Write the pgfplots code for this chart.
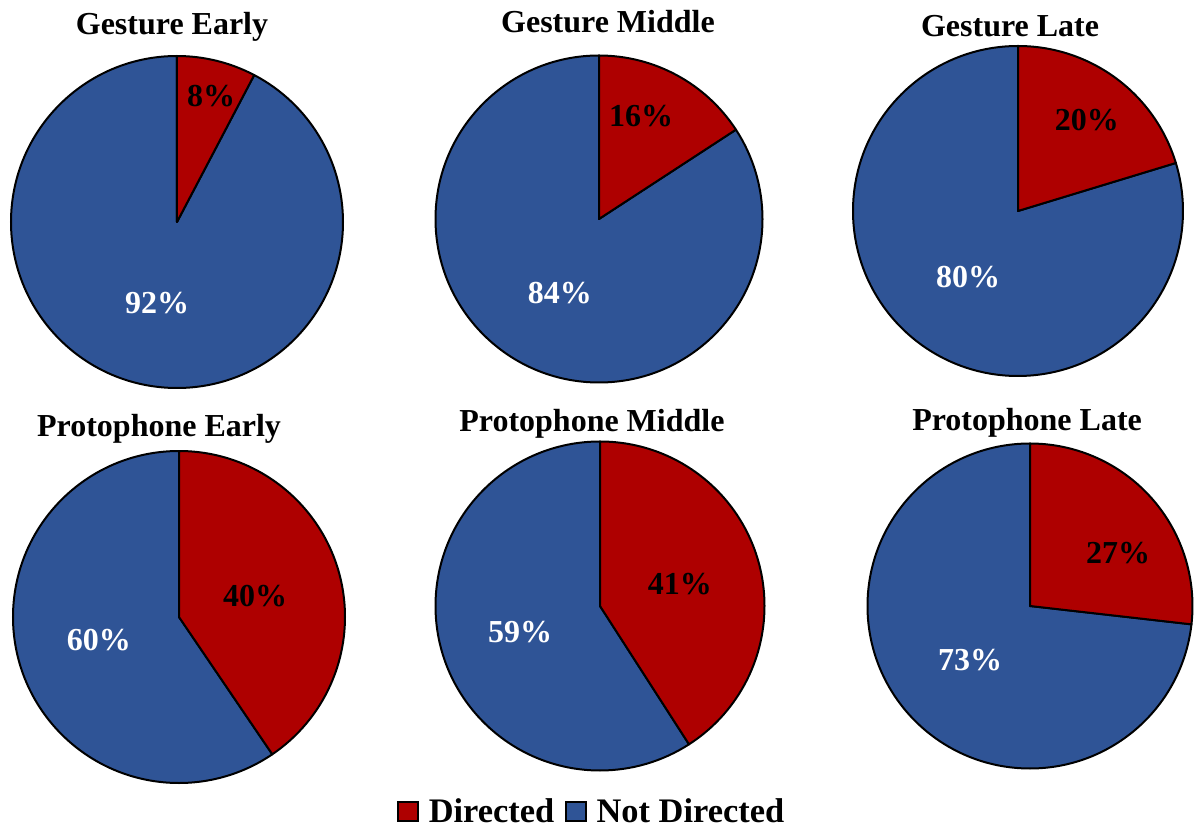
\documentclass[border=0pt]{standalone}
\usepackage{fontspec}
\setmainfont{Liberation Serif}
\usepackage{pgfplots}
\pgfplotsset{compat=1.18}
\definecolor{dred}{RGB}{174,0,0}
\definecolor{nblue}{RGB}{47,84,150}
% Directed share (%) of each pie
\def\vGE{7.7}
\def\vGM{15.8}
\def\vGL{20.3}
\def\vPE{40.5}
\def\vPM{40.9}
\def\vPL{26.8}
\newcommand{\slices}[2]{%
  \filldraw[fill=nblue,draw=black,line width=1pt,line join=round] (axis cs:0,0) -- (axis cs:0,1)
     arc[start angle=90, delta angle={3.6*(100-#2)}, radius={#1*0.5pt}] -- cycle;
  \filldraw[fill=dred,draw=black,line width=1pt,line join=round] (axis cs:0,0) -- (axis cs:0,1)
     arc[start angle=90, delta angle={-3.6*#2}, radius={#1*0.5pt}] -- cycle;}
\newcommand{\lab}{\bfseries\fontsize{16}{19}\selectfont}
\pgfplotsset{pieax/.style={scale only axis, hide axis, clip=false,
  xmin=-1,xmax=1,ymin=-1,ymax=1, anchor=origin}}
\begin{document}
\begin{tikzpicture}
\path[use as bounding box] (0,0) rectangle (597.5pt,415.5pt);
% Gesture Early
\begin{axis}[pieax, at={(177*0.5pt,609*0.5pt)}, width=166pt, height=166pt]
\slices{166}{\vGE}
\node[font=\lab] at (axis cs:-0.030,1.175) {Gesture Early};
\node[font=\lab] at (axis cs:0.205,0.759) {8\%};
\node[font=\lab,text=white] at (axis cs:-0.120,-0.488) {92\%};
\end{axis}
% Gesture Middle
\begin{axis}[pieax, at={(599*0.5pt,612*0.5pt)}, width=163.5pt, height=163.5pt]
\slices{163.5}{\vGM}
\node[font=\lab] at (axis cs:0.055,1.205) {Gesture Middle};
\node[font=\lab] at (axis cs:0.257,0.630) {16\%};
\node[font=\lab,text=white] at (axis cs:-0.239,-0.453) {84\%};
\end{axis}
% Gesture Late
\begin{axis}[pieax, at={(1018*0.5pt,620*0.5pt)}, width=165pt, height=165pt]
\slices{165}{\vGL}
\node[font=\lab] at (axis cs:-0.048,1.121) {Gesture Late};
\node[font=\lab] at (axis cs:0.418,0.552) {20\%};
\node[font=\lab,text=white] at (axis cs:-0.303,-0.400) {80\%};
\end{axis}
% Protophone Early
\begin{axis}[pieax, at={(179*0.5pt,214*0.5pt)}, width=166pt, height=166pt]
\slices{166}{\vPE}
\node[font=\lab] at (axis cs:-0.120,1.133) {Protophone Early};
\node[font=\lab] at (axis cs:0.458,0.127) {40\%};
\node[font=\lab,text=white] at (axis cs:-0.482,-0.139) {60\%};
\end{axis}
% Protophone Middle
\begin{axis}[pieax, at={(600*0.5pt,225*0.5pt)}, width=164.5pt, height=164.5pt,
  legend style={at={(axis description cs:0.478,-0.126)}, anchor=center, draw=none, fill=none,
    legend columns=2, font=\bfseries\fontsize{17.2}{20}\selectfont,
    /tikz/every odd column/.append style={column sep=3pt},
    /tikz/every even column/.append style={column sep=3.5pt}}]
\addlegendimage{legend image code/.code={\filldraw[fill=dred,draw=black,line width=0.7pt] (0pt,-4.5pt) rectangle (10pt,5pt);}}
\addlegendentry{Directed}
\addlegendimage{legend image code/.code={\filldraw[fill=nblue,draw=black,line width=0.7pt] (0pt,-4.5pt) rectangle (10pt,5pt);}}
\addlegendentry{Not Directed}
\slices{164.5}{\vPM}
\node[font=\lab] at (axis cs:-0.049,1.106) {Protophone Middle};
\node[font=\lab] at (axis cs:0.486,0.134) {41\%};
\node[font=\lab,text=white] at (axis cs:-0.486,-0.158) {59\%};
\end{axis}
% Protophone Late
\begin{axis}[pieax, at={(1030*0.5pt,225*0.5pt)}, width=162.5pt, height=162.5pt]
\slices{162.5}{\vPL}
\node[font=\lab] at (axis cs:-0.018,1.130) {Protophone Late};
\node[font=\lab] at (axis cs:0.542,0.326) {27\%};
\node[font=\lab,text=white] at (axis cs:-0.369,-0.332) {73\%};
\end{axis}
\end{tikzpicture}
\end{document}
